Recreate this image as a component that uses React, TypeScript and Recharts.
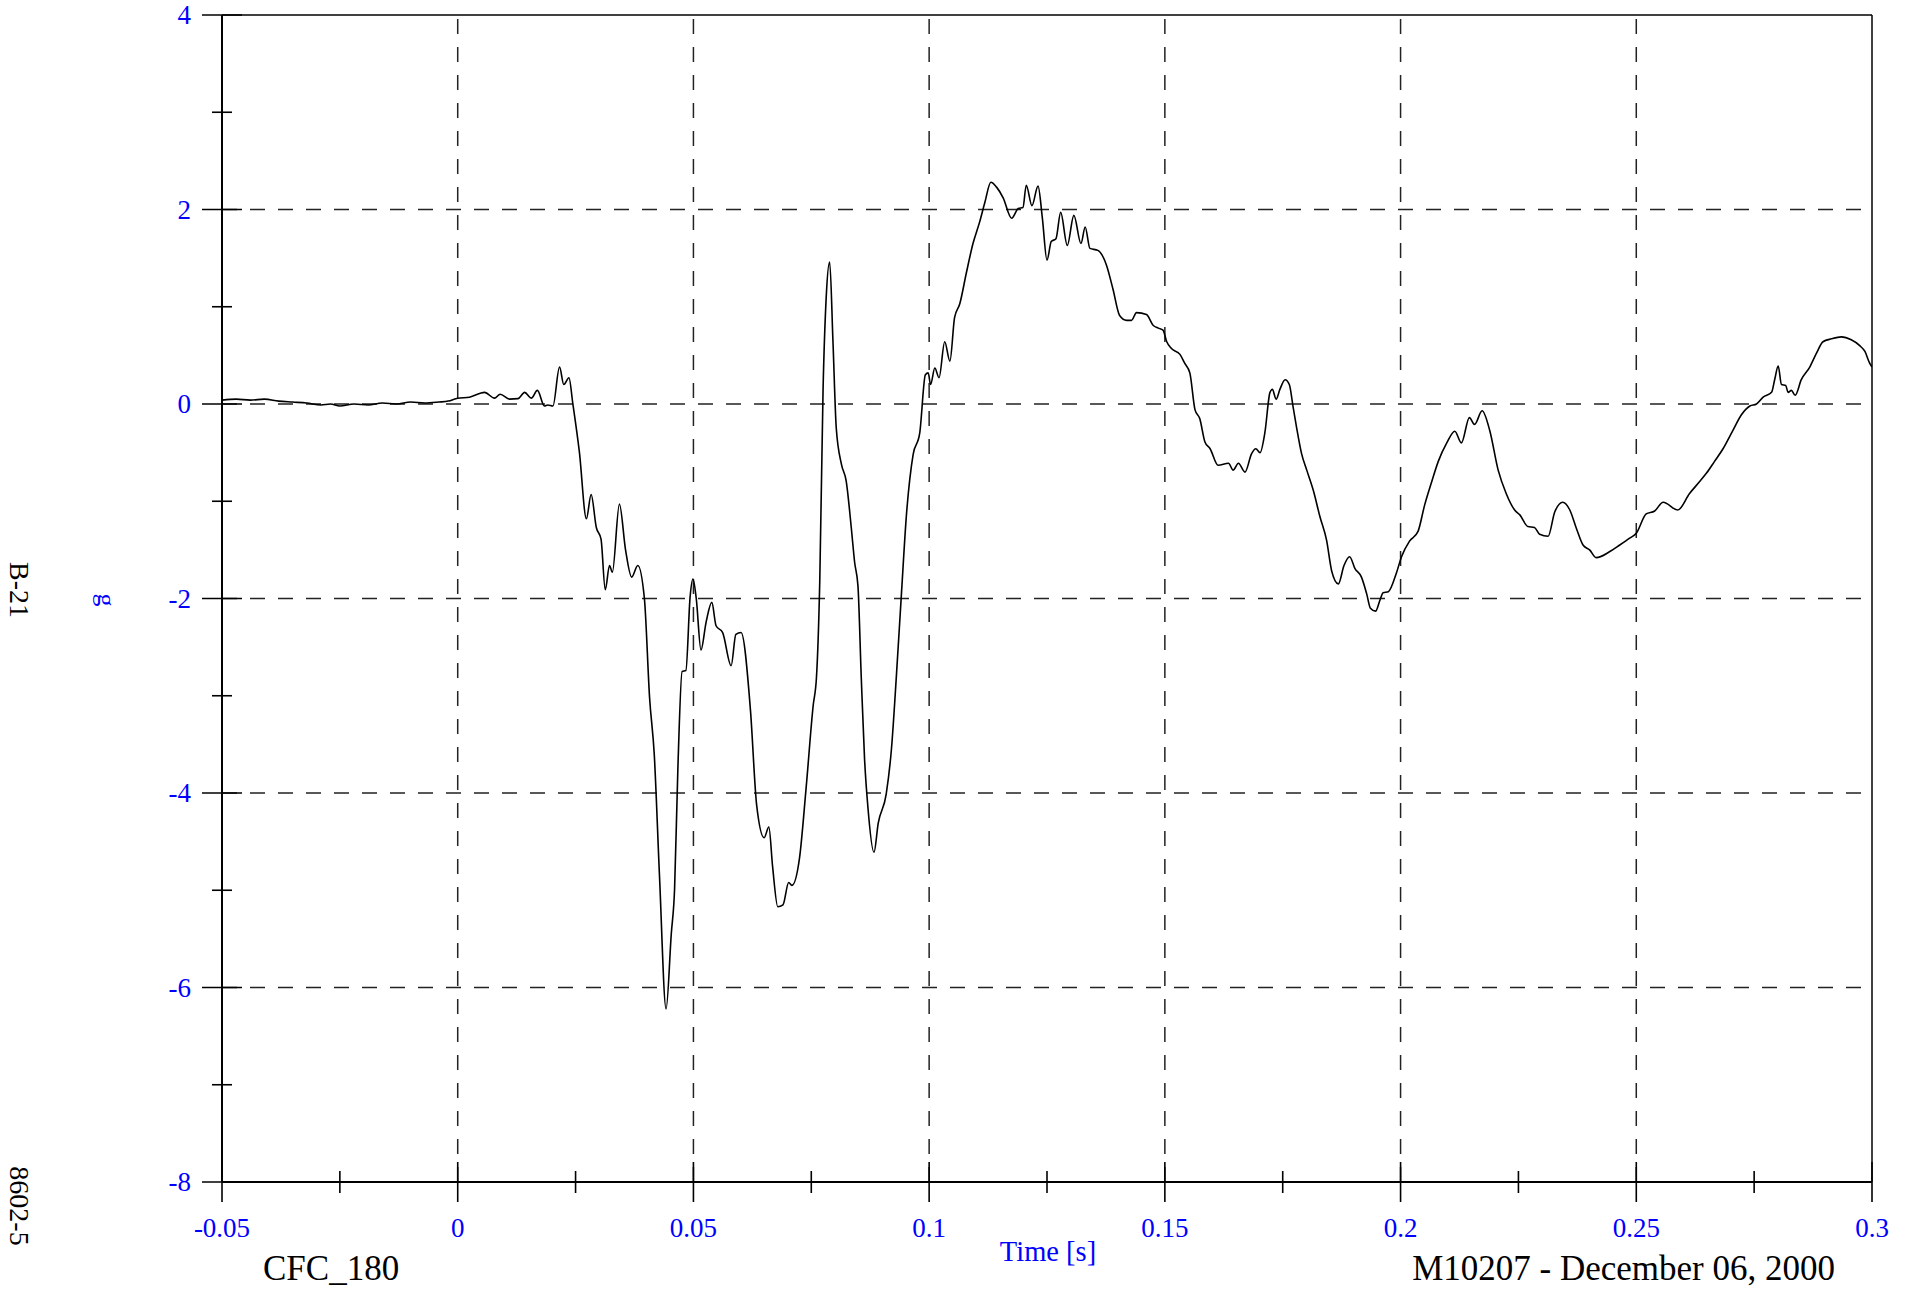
import { LineChart, Line, XAxis, YAxis, ReferenceLine } from "recharts";

// time [s]
const timeS = [
  -0.05, -0.047, -0.044, -0.041, -0.038, -0.035, -0.032, -0.029, -0.027, -0.025,
  -0.022, -0.019, -0.016, -0.013, -0.01, -0.007, -0.004, -0.002,
  0.0, 0.0025, 0.0057, 0.0078, 0.009, 0.011, 0.0128, 0.0142, 0.0156, 0.0169,
  0.0184, 0.0191, 0.0202, 0.0216, 0.0225, 0.0236, 0.0244, 0.0258, 0.0273, 0.0283,
  0.0294, 0.0304, 0.0313, 0.0322, 0.0328, 0.0343, 0.0356, 0.0369, 0.0382, 0.0396,
  0.0407, 0.0417, 0.0428, 0.0442, 0.0453, 0.046, 0.0467, 0.0476, 0.0484, 0.0493,
  0.0499, 0.0506, 0.0516, 0.0527, 0.0539, 0.0548, 0.0562, 0.058, 0.059, 0.0601,
  0.0621, 0.0634, 0.065, 0.066, 0.0668, 0.0679, 0.069, 0.0702, 0.0709, 0.0725,
  0.0739, 0.0754, 0.0761, 0.0768, 0.0775, 0.0782, 0.0789, 0.0796, 0.0803, 0.0814,
  0.0824, 0.0835, 0.0842, 0.0849, 0.0856, 0.0863, 0.087, 0.0883, 0.0892, 0.0909,
  0.092, 0.0931, 0.0941, 0.0952, 0.0966, 0.098, 0.0992, 0.0998, 0.1003, 0.1012,
  0.1021, 0.1033, 0.1044, 0.1054, 0.1065, 0.1079, 0.1093, 0.1107, 0.1118, 0.1131,
  0.1143, 0.1157, 0.1175, 0.1189, 0.1199, 0.1206, 0.1218, 0.1231, 0.124, 0.125,
  0.1259, 0.1269, 0.1279, 0.1293, 0.1307, 0.1322, 0.1331, 0.1341, 0.1358, 0.1376,
  0.139, 0.1404, 0.1419, 0.1429, 0.144, 0.1461, 0.1475, 0.1486, 0.1496, 0.1504,
  0.1514, 0.1532, 0.1542, 0.1553, 0.1564, 0.1574, 0.1585, 0.1596, 0.1613, 0.1635,
  0.1645, 0.1656, 0.167, 0.1684, 0.1693, 0.1702, 0.1712, 0.1723, 0.1728, 0.1736,
  0.1744, 0.1755, 0.1764, 0.1772, 0.1779, 0.179, 0.1801, 0.1815, 0.1829, 0.1843,
  0.1854, 0.1868, 0.188, 0.1892, 0.1903, 0.1917, 0.1928, 0.1936, 0.1947, 0.1956,
  0.1963, 0.1974, 0.1991, 0.2002, 0.2019, 0.2037, 0.2051, 0.2066, 0.208, 0.2098,
  0.2115, 0.2129, 0.2146, 0.2157, 0.2173, 0.2189, 0.2207, 0.2224, 0.2242, 0.2253,
  0.227, 0.2284, 0.2295, 0.2313, 0.2327, 0.2344, 0.2359, 0.2373, 0.2387, 0.2401,
  0.2415, 0.2443, 0.2465, 0.2486, 0.25, 0.2521, 0.2539, 0.2557, 0.2588, 0.2613,
  0.2634, 0.2649, 0.2666, 0.2684, 0.2705, 0.2723, 0.2741, 0.2755, 0.2769, 0.2787,
  0.2794, 0.2801, 0.2808, 0.2817, 0.2822, 0.2829, 0.2837, 0.285, 0.2868, 0.2882,
  0.2896, 0.2914, 0.2935, 0.2956, 0.2974, 0.2985, 0.2995, 0.3,
];

// acceleration [g]
const accelG = [
  0.04, 0.05, 0.04, 0.05, 0.03, 0.02, 0.01, -0.01, 0.0, -0.02,
  0.0, -0.01, 0.01, 0.0, 0.02, 0.01, 0.02, 0.03,
  0.06, 0.07, 0.12, 0.06, 0.1, 0.05, 0.055, 0.12, 0.06, 0.14,
  -0.02, -0.01, -0.02, 0.38, 0.2, 0.27, 0.01, -0.49, -1.18, -0.93,
  -1.27, -1.39, -1.91, -1.66, -1.73, -1.03, -1.5, -1.78, -1.66, -2.0,
  -3.02, -3.61, -4.85, -6.22, -5.45, -4.99, -3.75, -2.75, -2.74, -1.98,
  -1.8, -2.0, -2.53, -2.24, -2.04, -2.28, -2.35, -2.69, -2.37, -2.35,
  -3.15, -4.12, -4.46, -4.35, -4.76, -5.17, -5.15, -4.92, -4.95, -4.67,
  -3.95, -3.1, -2.81, -1.82, 0.15, 1.13, 1.46, 0.64, -0.25, -0.62,
  -0.79, -1.28, -1.63, -1.87, -2.81, -3.65, -4.14, -4.61, -4.31, -4.01,
  -3.55, -2.76, -1.97, -1.13, -0.52, -0.3, 0.3, 0.32, 0.2, 0.37,
  0.27, 0.64, 0.44, 0.89, 1.03, 1.35, 1.65, 1.87, 2.07, 2.28,
  2.23, 2.12, 1.91, 2.01, 2.02, 2.25, 2.04, 2.24, 1.92, 1.48,
  1.67, 1.7, 1.97, 1.63, 1.94, 1.65, 1.82, 1.6, 1.58, 1.43,
  1.18, 0.91, 0.86, 0.86, 0.94, 0.92, 0.81, 0.78, 0.76, 0.64,
  0.57, 0.51, 0.42, 0.32, -0.06, -0.15, -0.39, -0.46, -0.63, -0.61,
  -0.68, -0.61, -0.7, -0.51, -0.46, -0.5, -0.3, 0.12, 0.15, 0.05,
  0.15, 0.25, 0.2, -0.03, -0.23, -0.51, -0.68, -0.89, -1.16, -1.4,
  -1.72, -1.85, -1.66, -1.57, -1.69, -1.78, -1.95, -2.1, -2.13, -2.02,
  -1.94, -1.93, -1.74, -1.57, -1.41, -1.31, -1.04, -0.8, -0.59, -0.4,
  -0.28, -0.4, -0.14, -0.21, -0.07, -0.27, -0.68, -0.92, -1.09, -1.14,
  -1.26, -1.27, -1.34, -1.36, -1.11, -1.01, -1.09, -1.28, -1.45, -1.5,
  -1.58, -1.52, -1.45, -1.38, -1.33, -1.13, -1.1, -1.01, -1.09, -0.92,
  -0.8, -0.71, -0.59, -0.46, -0.27, -0.11, -0.02, 0.0, 0.07, 0.12,
  0.26, 0.39, 0.2, 0.19, 0.12, 0.14, 0.09, 0.25, 0.38, 0.52,
  0.64, 0.67, 0.69, 0.66, 0.6, 0.54, 0.42, 0.38,
];

const xTicks = [
  -0.05, -0.025, 0, 0.025, 0.05, 0.075, 0.1, 0.125, 0.15, 0.175, 0.2, 0.225,
  0.25, 0.275, 0.3,
];
const xTickLabels = ["-0.05", "0", "0.05", "0.1", "0.15", "0.2", "0.25", "0.3"];
const yTicks = [-8, -7, -6, -5, -4, -3, -2, -1, 0, 1, 2, 3, 4];
const yTickLabels = ["-8", "-6", "-4", "-2", "0", "2", "4"];
const xGrid = [0, 0.05, 0.1, 0.15, 0.2, 0.25];
const yGrid = [-6, -4, -2, 0, 2];

const data = timeS.map((t, i) => ({ t, g: accelG[i] }));

const FONT = "'Liberation Serif', 'Times New Roman', serif";
const BLUE = "#0000ff";

const XTick = (props: any) => {
  const { x, y, index } = props;
  const major = index % 2 === 0;
  return (
    <g>
      <line
        x1={x}
        x2={x}
        y1={major ? y - 20 : y - 11}
        y2={major ? y + 20 : y + 11}
        stroke="#000"
        strokeWidth={1.6}
      />
      {major && (
        <text
          x={x}
          y={y + 46}
          textAnchor="middle"
          dominantBaseline="central"
          fill={BLUE}
          fontFamily={FONT}
          fontSize={27}
        >
          {xTickLabels[index / 2]}
        </text>
      )}
    </g>
  );
};

const YTick = (props: any) => {
  const { x, y, index } = props;
  const major = index % 2 === 0;
  return (
    <g>
      <line
        x1={major ? x - 20 : x - 10}
        x2={major ? x + 20 : x + 10}
        y1={y}
        y2={y}
        stroke="#000"
        strokeWidth={1.6}
      />
      {major && (
        <text
          x={x - 31}
          y={y}
          textAnchor="end"
          dominantBaseline="central"
          fill={BLUE}
          fontFamily={FONT}
          fontSize={27}
        >
          {yTickLabels[index / 2]}
        </text>
      )}
    </g>
  );
};

const textBase: React.CSSProperties = {
  position: "absolute",
  fontFamily: FONT,
  whiteSpace: "nowrap",
  lineHeight: 1,
};

export default function App() {
  return (
    <div
      style={{
        position: "absolute",
        left: 0,
        top: 0,
        width: 1914,
        height: 1290,
        background: "#fff",
      }}
    >
      <LineChart
        width={1914}
        height={1290}
        data={data}
        margin={{ top: 15, right: 42, bottom: 48, left: 142 }}
      >
        {xGrid.map((v) => (
          <ReferenceLine
            key={"gx" + v}
            x={v}
            stroke="#222"
            strokeWidth={1.5}
            strokeDasharray="15 13"
          />
        ))}
        {yGrid.map((v) => (
          <ReferenceLine
            key={"gy" + v}
            y={v}
            stroke="#222"
            strokeWidth={1.5}
            strokeDasharray="15 13"
          />
        ))}
        <ReferenceLine y={4} stroke="#000" strokeWidth={1.5} />
        <ReferenceLine x={0.3} stroke="#000" strokeWidth={1.5} />
        <XAxis
          type="number"
          dataKey="t"
          domain={[-0.05, 0.3]}
          ticks={xTicks}
          interval={0}
          allowDataOverflow
          height={60}
          tickSize={0}
          tickMargin={0}
          tickLine={false}
          axisLine={{ stroke: "#000", strokeWidth: 2 }}
          tick={<XTick />}
        />
        <YAxis
          type="number"
          dataKey="g"
          domain={[-8, 4]}
          ticks={yTicks}
          interval={0}
          allowDataOverflow
          width={80}
          tickSize={0}
          tickMargin={0}
          tickLine={false}
          axisLine={{ stroke: "#000", strokeWidth: 2 }}
          tick={<YTick />}
        />
        <Line
          type="monotone"
          dataKey="g"
          stroke="#000"
          strokeWidth={1.6}
          dot={false}
          isAnimationActive={false}
        />
      </LineChart>

      <div style={{ ...textBase, left: 263, top: 1268, transform: "translateY(-50%)", fontSize: 35, color: "#000" }}>
        CFC_180
      </div>
      <div style={{ ...textBase, right: 1914 - 1835, top: 1268, transform: "translateY(-50%)", fontSize: 35, color: "#000" }}>
        M10207 - December 06, 2000
      </div>
      <div style={{ ...textBase, left: 1048, top: 1252, transform: "translate(-50%, -50%)", fontSize: 28.5, color: BLUE }}>
        Time [s]
      </div>
      <div style={{ ...textBase, left: 19, top: 590, transform: "translate(-50%, -50%) rotate(90deg)", fontSize: 28, color: "#000" }}>
        B-21
      </div>
      <div style={{ ...textBase, left: 106, top: 600, transform: "translate(-50%, -50%) rotate(90deg)", fontSize: 26, color: BLUE }}>
        g
      </div>
      <div style={{ ...textBase, left: 19, top: 1206, transform: "translate(-50%, -50%) rotate(90deg)", fontSize: 28, color: "#000" }}>
        8602-5
      </div>
    </div>
  );
}
